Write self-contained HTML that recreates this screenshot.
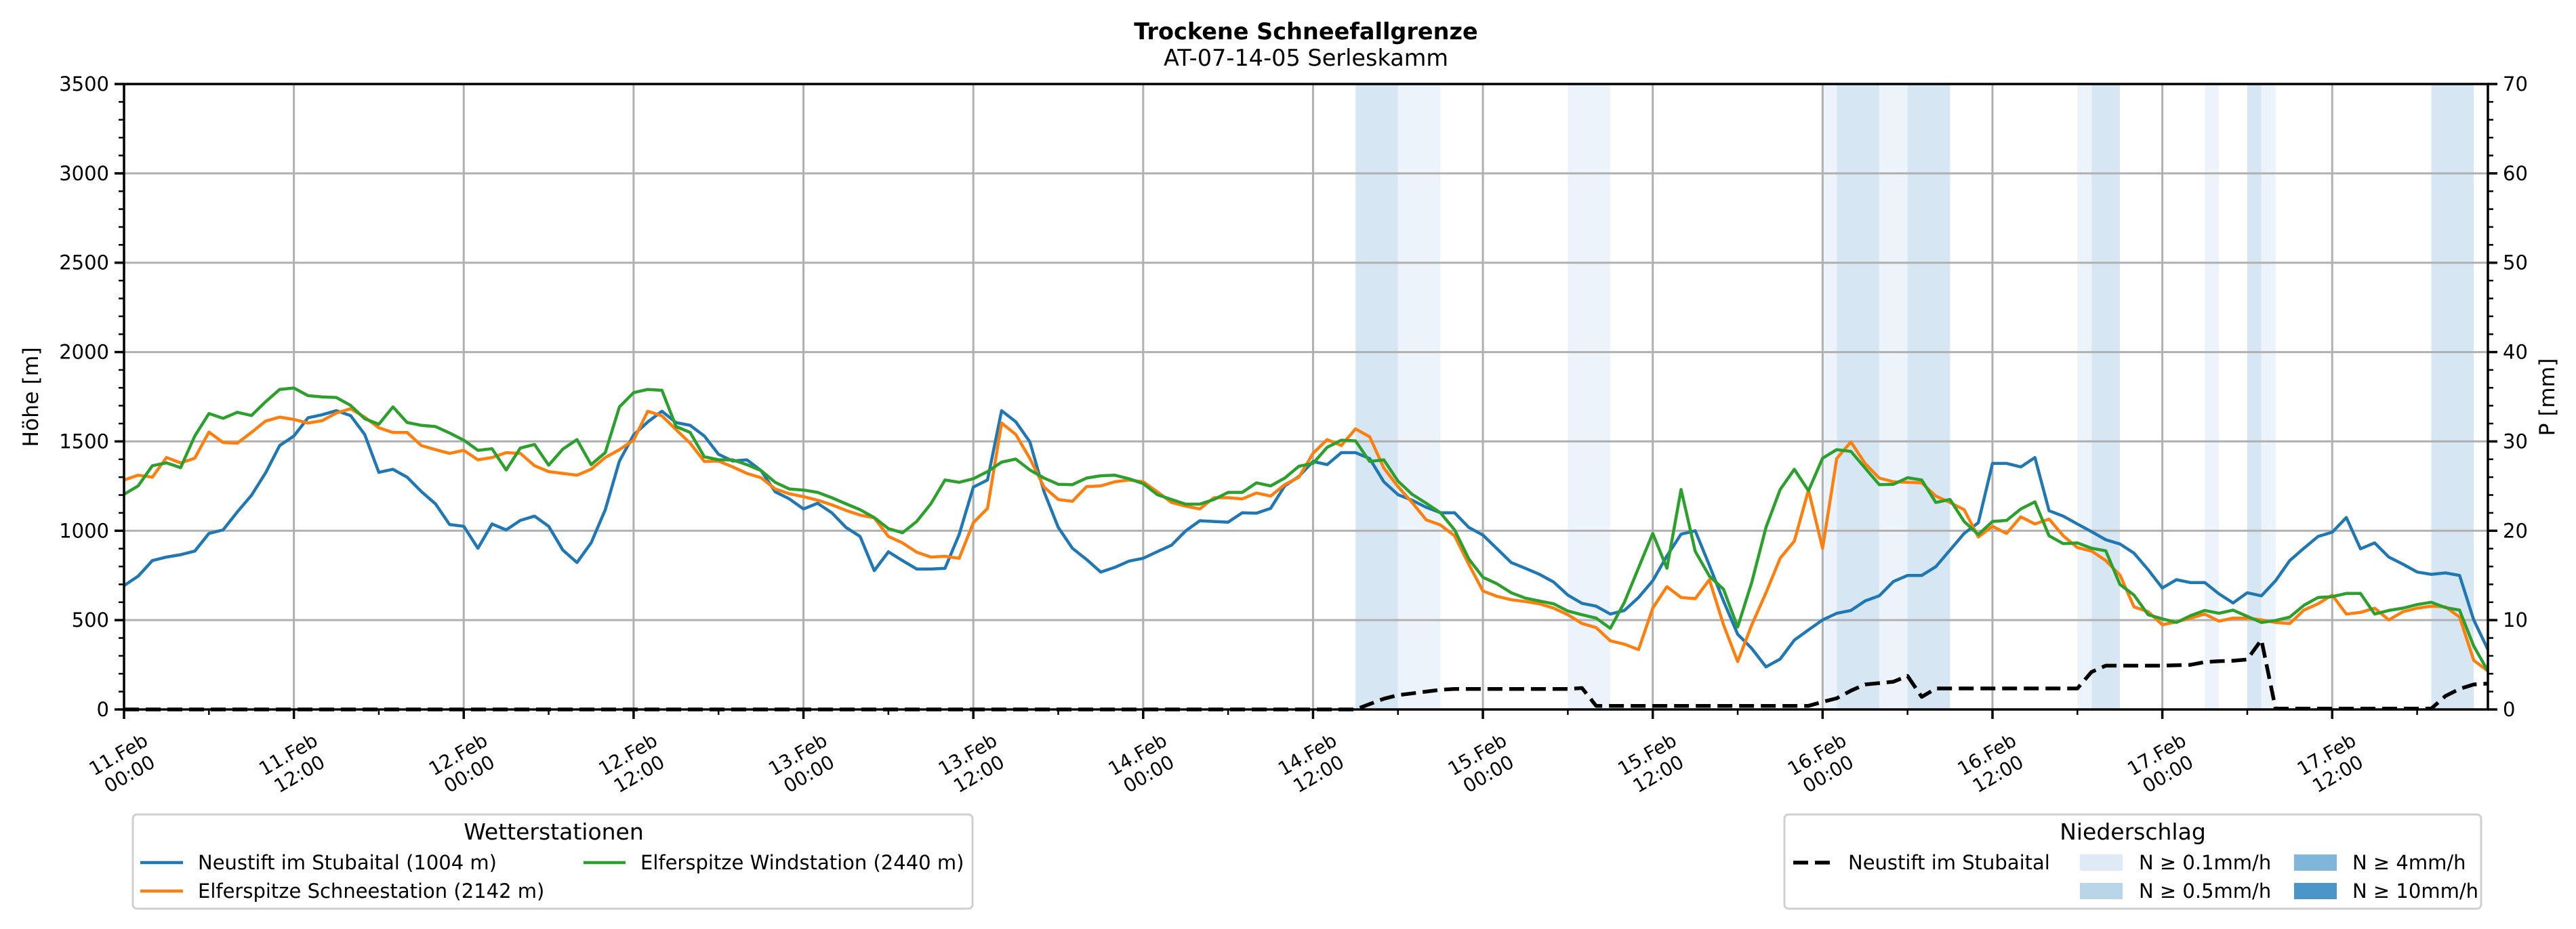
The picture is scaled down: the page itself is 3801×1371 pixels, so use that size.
<!DOCTYPE html>
<html><head><meta charset="utf-8"><style>
html,body{margin:0;padding:0;background:#fff;}
svg{display:block;font-family:"DejaVu Sans","Liberation Sans",sans-serif;}
</style></head><body>
<svg id="chart" width="3801" height="1371" viewBox="0 0 3801 1371" xmlns="http://www.w3.org/2000/svg">
<rect width="3801" height="1371" fill="#fff"/>
<text x="1927" y="58" text-anchor="middle" font-size="33.5" font-weight="bold">Trockene Schneefallgrenze</text>
<text x="1927" y="97" text-anchor="middle" font-size="33.5">AT-07-14-05 Serleskamm</text>
<g id="bands"></g>
<g id="grid"></g>
<g id="series"></g>
<g id="axes"></g>
<text transform="translate(56,586) rotate(-90)" text-anchor="middle" font-size="31.5">Höhe [m]</text>
<text transform="translate(3769,586) rotate(-90)" text-anchor="middle" font-size="31.5">P [mm]</text>

<g>
<rect x="196" y="1202" width="1239" height="139" rx="6" fill="#fff" stroke="#d0d0d0" stroke-width="3"/>
<text x="817" y="1239" text-anchor="middle" font-size="33">Wetterstationen</text>
<line x1="207" y1="1273" x2="270" y2="1273" stroke="#1f77b4" stroke-width="4.5"/>
<text x="292" y="1283" font-size="29">Neustift im Stubaital (1004 m)</text>
<line x1="207" y1="1315" x2="270" y2="1315" stroke="#ff7f0e" stroke-width="4.5"/>
<text x="292" y="1325" font-size="29">Elferspitze Schneestation (2142 m)</text>
<line x1="861" y1="1273" x2="923" y2="1273" stroke="#2ca02c" stroke-width="4.5"/>
<text x="945" y="1283" font-size="29">Elferspitze Windstation (2440 m)</text>
</g>
<g>
<rect x="2633" y="1202" width="1028" height="139" rx="6" fill="#fff" stroke="#d0d0d0" stroke-width="3"/>
<text x="3147" y="1239" text-anchor="middle" font-size="33">Niederschlag</text>
<line x1="2646" y1="1273" x2="2700" y2="1273" stroke="#000" stroke-width="5.5" stroke-dasharray="22 10"/>
<text x="2727" y="1283" font-size="29">Neustift im Stubaital</text>
<rect x="3069" y="1261" width="63" height="24" fill="#deebf7"/>
<text x="3156" y="1283" font-size="29">N ≥ 0.1mm/h</text>
<rect x="3069" y="1303" width="63" height="24" fill="#b9d5ea"/>
<text x="3156" y="1325" font-size="29">N ≥ 0.5mm/h</text>
<rect x="3385" y="1261" width="63" height="24" fill="#80b6da"/>
<text x="3471" y="1283" font-size="29">N ≥ 4mm/h</text>
<rect x="3385" y="1303" width="63" height="24" fill="#4a96c9"/>
<text x="3471" y="1325" font-size="29">N ≥ 10mm/h</text>
</g>
</svg>
<script>
const blue=[693,746,833,853,866,886,985,1005,1105,1198,1324,1477,1530,1632,1649,1672,1645,1539,1327,1344,1300,1220,1151,1035,1025,902,1038,1005,1058,1082,1025,892,822,932,1118,1390,1536,1609,1669,1605,1590,1530,1428,1390,1397,1337,1218,1178,1122,1154,1101,1019,968,777,882,833,786,
786,790,979,1244,1284,1672,1610,1497,1218,1019,902,839,769,795,830,846,883,919,999,1056,1052,1048,1101,1098,1125,1251,1304,1388,1370,1437,1437,1404,1274,1202,1171,1131,1101,1101,1019,976,899,822,790,756,713,640,594,578,534,554,627,720,859,981,1000,
806,607,421,341,238,282,388,445,501,538,554,607,636,716,750,750,799,892,985,1045,1377,1377,1357,1410,1112,1082,1038,995,950,926,875,782,680,726,710,710,647,596,653,636,720,833,902,968,992,1074,899,932,853,813,769,756,764,750,501,335];
const orange=[1284,1311,1300,1410,1380,1406,1552,1494,1490,1550,1614,1636,1623,1603,1616,1659,1683,1636,1576,1550,1550,1477,1454,1433,1450,1397,1410,1437,1433,1364,1331,1321,1311,1344,1410,1454,1507,1669,1643,1566,1490,1388,1390,1357,1321,1297,1234,1207,1191,1171,1145,1114,1088,1072,968,932,880,
853,857,846,1045,1125,1603,1539,1404,1244,1175,1165,1247,1251,1274,1284,1274,1218,1158,1138,1122,1185,1185,1178,1211,1194,1258,1300,1433,1510,1477,1570,1526,1351,1247,1158,1061,1032,972,813,663,633,614,604,591,567,530,481,458,384,365,335,567,687,627,620,
726,474,268,474,653,846,942,1228,902,1404,1497,1377,1295,1274,1271,1268,1194,1158,1118,965,1025,985,1078,1038,1065,972,906,886,833,753,574,547,474,490,511,534,494,511,511,501,487,481,556,591,640,534,543,567,501,547,567,578,574,517,275,215];
const green=[1204,1251,1364,1380,1353,1530,1656,1629,1663,1645,1722,1791,1799,1756,1749,1746,1702,1627,1596,1693,1606,1590,1583,1547,1507,1450,1459,1340,1463,1483,1367,1457,1510,1370,1437,1693,1773,1791,1786,1583,1550,1414,1397,1397,1370,1337,1271,1234,1228,1215,1185,1151,1118,1074,1012,989,1052,
1151,1284,1271,1291,1331,1384,1401,1340,1295,1260,1258,1295,1308,1311,1291,1264,1202,1175,1149,1149,1175,1215,1215,1268,1251,1295,1361,1377,1467,1507,1503,1388,1397,1278,1204,1154,1101,1005,843,740,703,653,623,607,591,551,530,511,454,600,793,985,790,1231,885,
746,673,461,713,1019,1231,1344,1224,1406,1454,1444,1351,1258,1260,1297,1284,1158,1175,1052,979,1052,1058,1122,1162,972,928,932,902,888,700,640,530,507,487,525,554,538,556,521,487,498,517,583,627,631,649,649,534,554,567,587,600,570,556,355,215];
const precip=[0,0,0,0,0,0,0,0,0,0,0,0,0,0,0,0,0,0,0,0,0,0,0,0,0,0,0,0,0,0,0,0,0,0,0,0,0,0,0,0,0,0,0,0,0,0,0,0,0,0,0,0,0,0,0,0,0,0,0,0,0,0,0,0,0,0,0,0,0,0,0,0,0,0,0,0,0,0,0,0,0,0,0,0,0,0,0,0,
0.6,1.2,1.6,1.8,2.0,2.2,2.3,2.3,2.3,2.3,2.3,2.3,2.3,2.3,2.3,2.4,0.4,0.4,0.4,0.4,0.4,0.4,0.4,0.4,0.4,0.4,0.4,0.4,0.4,0.4,0.4,0.4,0.85,1.25,2.1,2.8,2.95,3.1,3.75,1.4,2.35,2.35,2.35,2.35,2.35,2.35,2.35,2.35,2.35,2.35,2.35,4.2,4.9,4.9,4.9,4.9,4.9,4.95,5.0,5.3,5.4,5.45,5.6,7.8,0.1,0.1,0.1,0.1,0.1,0.1,0.1,0.1,0.1,0.1,0.1,0.1,1.5,2.3,2.8,2.9];
const bandStart=[87,90,102,120,121,124,126,138,139,147,150,151,163];
const bandEnd=[90,93,105,121,124,126,129,139,141,148,151,152,166];
const bandLevel=[2,1,1,1,2,1,2,1,2,1,2,1,2];
const xTickLabels=[["11.Feb","00:00"],["11.Feb","12:00"],["12.Feb","00:00"],["12.Feb","12:00"],["13.Feb","00:00"],["13.Feb","12:00"],["14.Feb","00:00"],["14.Feb","12:00"],["15.Feb","00:00"],["15.Feb","12:00"],["16.Feb","00:00"],["16.Feb","12:00"],["17.Feb","00:00"],["17.Feb","12:00"]];
const yTicks=[0,500,1000,1500,2000,2500,3000,3500];
const y2Ticks=[0,10,20,30,40,50,60,70];

const NS="http://www.w3.org/2000/svg";
const L=183,R=3671,T=124,B=1047,HMAX=167;
const xs=h=>L+(R-L)*h/HMAX;
const ys=v=>B-(B-T)*v/3500;
const yp=v=>B-(B-T)*v/70;
function mk(tag,attrs,parent){const e=document.createElementNS(NS,tag);for(const k in attrs)e.setAttribute(k,attrs[k]);parent.appendChild(e);return e;}
const gB=document.getElementById('bands'),gG=document.getElementById('grid'),gS=document.getElementById('series'),gA=document.getElementById('axes');
const bandColors=['','#edf3fa','#d6e6f3'];
bandStart.forEach((s,i)=>{
 const r=mk('rect',{x:xs(s),y:T,width:xs(bandEnd[i])-xs(s),height:B-T,fill:bandColors[bandLevel[i]]},gB);
 
 
});
xTickLabels.forEach((lab,i)=>{
 const x=xs(i*12);
 const g=mk('line',{x1:x,y1:T,x2:x,y2:B,stroke:'#b0b0b0','stroke-width':3},gG);
 
 
});
yTicks.forEach(v=>{
 const g=mk('line',{x1:L,y1:ys(v),x2:R,y2:ys(v),stroke:'#b0b0b0','stroke-width':3},gG);
 
 
});
function line(arr,color,name,yfn,dash){
 const pts=arr.map((v,i)=>xs(i).toFixed(1)+','+yfn(v).toFixed(1)).join(' ');
 const p=mk('polyline',{points:pts,fill:'none',stroke:color,'stroke-width':dash?5.5:4.5,'stroke-linejoin':'round'},gS);
 if(dash)p.setAttribute('stroke-dasharray','22 10');
 
 
}
line(blue,'#1f77b4','line-neustift',ys);
line(orange,'#ff7f0e','line-schneestation',ys);
line(green,'#2ca02c','line-windstation',ys);
line(precip,'#000','line-precip-neustift',yp,true);
mk('rect',{x:L,y:T,width:R-L,height:B-T,fill:'none',stroke:'#000','stroke-width':3.5},gA);
yTicks.forEach(v=>{
 mk('line',{x1:L-14,y1:ys(v),x2:L,y2:ys(v),stroke:'#000','stroke-width':3.5},gA);
 const t=mk('text',{x:L-22,y:ys(v)+10,'text-anchor':'end','font-size':29},gA);
 t.textContent=v;
 
 
});
for(let v=0;v<=3500;v+=100){if(v%500)mk('line',{x1:L-8,y1:ys(v),x2:L,y2:ys(v),stroke:'#000','stroke-width':2.5},gA);}
y2Ticks.forEach(v=>{
 mk('line',{x1:R,y1:yp(v),x2:R+14,y2:yp(v),stroke:'#000','stroke-width':3.5},gA);
 const t=mk('text',{x:R+22,y:yp(v)+10,'font-size':29},gA);
 t.textContent=v;
 
 
});
for(let v=0;v<=70;v+=2){if(v%10)mk('line',{x1:R,y1:yp(v),x2:R+8,y2:yp(v),stroke:'#000','stroke-width':2.5},gA);}
for(let h=6;h<=HMAX;h+=12)mk('line',{x1:xs(h),y1:B,x2:xs(h),y2:B+8,stroke:'#000','stroke-width':2.5},gA);
xTickLabels.forEach((lab,i)=>{
 const x=xs(i*12);
 mk('line',{x1:x,y1:B,x2:x,y2:B+14,stroke:'#000','stroke-width':3.5},gA);
 const t=mk('text',{transform:`translate(${x},1128) rotate(-30)`,'text-anchor':'middle','font-size':28},gA);
 
 
 mk('tspan',{x:0,y:-7},t).textContent=lab[0];
 mk('tspan',{x:0,y:26},t).textContent=lab[1];
});
</script>
</body></html>
